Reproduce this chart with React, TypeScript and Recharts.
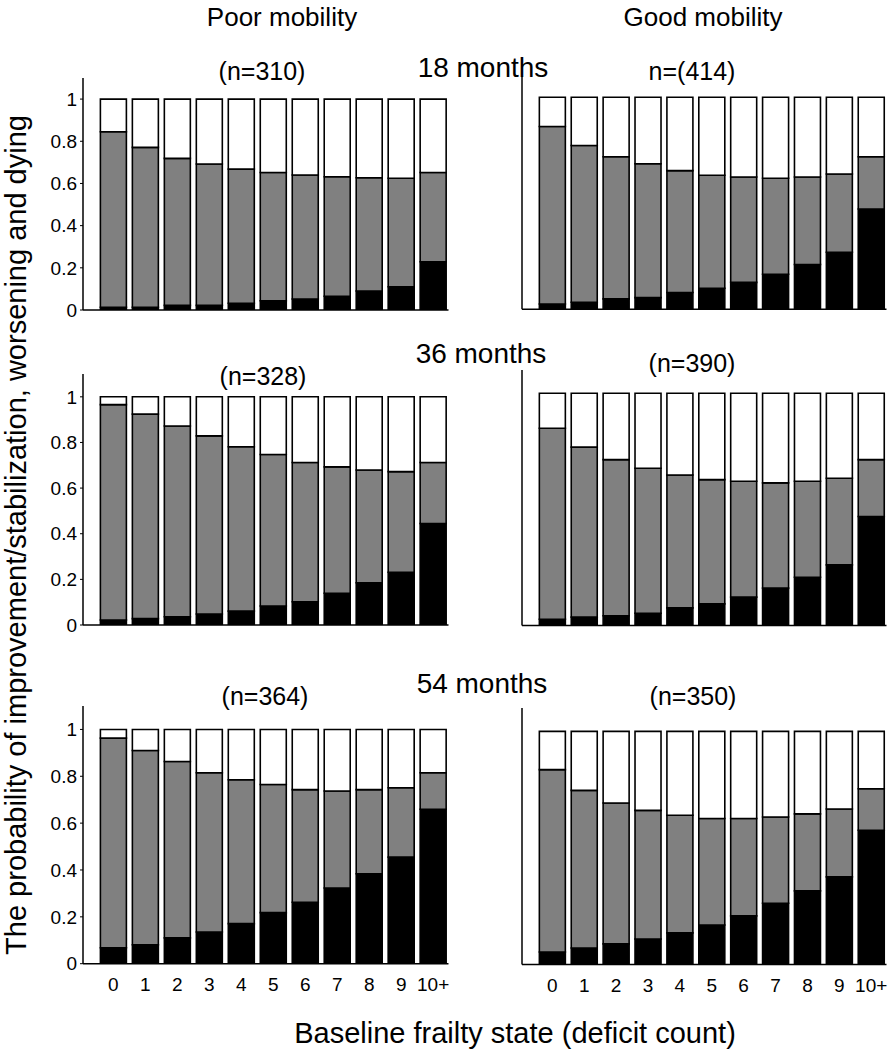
import React from "react";
import { BarChart, Bar, XAxis, YAxis } from "recharts";

const deficitIndex = [0, 1, 2, 3, 4, 5, 6, 7, 8, 9, 10];
const deficitLabels = ["0", "1", "2", "3", "4", "5", "6", "7", "8", "9", "10+"];
const probTicks = [0, 0.2, 0.4, 0.6, 0.8, 1];

// black = dying, gray = improvement/stabilization, white = worsening
const poor18Dying = [0.013, 0.013, 0.022, 0.022, 0.032, 0.044, 0.052, 0.065, 0.09, 0.11, 0.229];
const poor18Stable = [0.832, 0.758, 0.697, 0.67, 0.636, 0.608, 0.588, 0.567, 0.537, 0.515, 0.423];
const poor18Worse = [0.155, 0.229, 0.281, 0.308, 0.332, 0.348, 0.36, 0.368, 0.373, 0.375, 0.348];

const good18Dying = [0.025, 0.033, 0.049, 0.055, 0.079, 0.099, 0.127, 0.165, 0.211, 0.269, 0.473];
const good18Stable = [0.837, 0.739, 0.67, 0.631, 0.575, 0.533, 0.497, 0.453, 0.413, 0.369, 0.246];
const good18Worse = [0.138, 0.228, 0.281, 0.314, 0.346, 0.368, 0.376, 0.382, 0.376, 0.362, 0.281];

const poor36Dying = [0.022, 0.028, 0.036, 0.048, 0.061, 0.083, 0.102, 0.139, 0.185, 0.231, 0.445];
const poor36Stable = [0.944, 0.896, 0.836, 0.781, 0.72, 0.664, 0.61, 0.554, 0.494, 0.441, 0.267];
const poor36Worse = [0.034, 0.076, 0.128, 0.171, 0.219, 0.253, 0.288, 0.307, 0.321, 0.328, 0.288];

const good36Dying = [0.027, 0.036, 0.042, 0.053, 0.076, 0.093, 0.122, 0.161, 0.208, 0.261, 0.469];
const good36Stable = [0.822, 0.732, 0.672, 0.624, 0.572, 0.535, 0.499, 0.453, 0.413, 0.373, 0.245];
const good36Worse = [0.151, 0.232, 0.286, 0.323, 0.352, 0.372, 0.379, 0.386, 0.379, 0.366, 0.286];

const poor54Dying = [0.068, 0.081, 0.11, 0.135, 0.171, 0.218, 0.262, 0.323, 0.384, 0.455, 0.659];
const poor54Stable = [0.895, 0.829, 0.753, 0.68, 0.614, 0.547, 0.481, 0.414, 0.359, 0.296, 0.156];
const poor54Worse = [0.037, 0.09, 0.137, 0.185, 0.215, 0.235, 0.257, 0.263, 0.257, 0.249, 0.185];

const good54Dying = [0.054, 0.071, 0.089, 0.11, 0.136, 0.17, 0.209, 0.263, 0.316, 0.376, 0.576];
const good54Stable = [0.782, 0.676, 0.604, 0.551, 0.504, 0.456, 0.417, 0.37, 0.33, 0.291, 0.178];
const good54Worse = [0.164, 0.253, 0.307, 0.339, 0.36, 0.374, 0.374, 0.367, 0.354, 0.333, 0.246];

const buildRows = (dying: number[], stable: number[], worse: number[]) =>
  deficitIndex.map((x, i) => ({ x, dying: dying[i], stable: stable[i], worse: worse[i] }));

const FONT = "'Liberation Sans', Arial, sans-serif";

type PanelProps = {
  rows: any[];
  left: number;
  right: number;
  top: number;
  bottom: number;
  yLabels?: boolean;
  xLabels?: boolean;
};

const Panel = ({ rows, left, right, top, bottom, yLabels, xLabels }: PanelProps) => {
  const boxLeft = left - 60;
  const boxTop = top - 10;
  const width = right - boxLeft + 10;
  const height = bottom - boxTop + 40;
  const tickStyle = { fill: "#000", fontSize: 19, fontFamily: FONT };
  return (
    <div style={{ position: "absolute", left: boxLeft, top: boxTop }}>
      <BarChart width={width} height={height} data={rows} margin={{ top: 10, right: 10, left: 20, bottom: 10 }}>
        <XAxis
          type="number"
          dataKey="x"
          domain={[-0.95, 10.48]}
          ticks={deficitIndex}
          tickFormatter={(v: number) => deficitLabels[v]}
          allowDataOverflow
          height={30}
          tickLine={false}
          tickSize={10}
          tickMargin={4}
          tick={xLabels ? tickStyle : false}
          axisLine={{ stroke: "#000", strokeWidth: 1.5 }}
        />
        <YAxis
          type="number"
          domain={[0, 1.1]}
          ticks={probTicks}
          allowDataOverflow
          width={40}
          tickSize={3}
          tickMargin={3}
          tick={yLabels ? tickStyle : false}
          tickLine={{ stroke: "#000" }}
          axisLine={{ stroke: "#000", strokeWidth: 1.5 }}
        />
        <Bar dataKey="dying" stackId="s" fill="#000" stroke="#000" strokeWidth={1.6} barSize={26} isAnimationActive={false} />
        <Bar dataKey="stable" stackId="s" fill="#808080" stroke="#000" strokeWidth={1.6} barSize={26} isAnimationActive={false} />
        <Bar dataKey="worse" stackId="s" fill="#fff" stroke="#000" strokeWidth={1.6} barSize={26} isAnimationActive={false} />
      </BarChart>
    </div>
  );
};

const App = () => {
  const textStyle = { fontFamily: FONT, fill: "#000" };
  return (
    <div style={{ position: "absolute", left: 0, top: 0, width: 891, height: 1050, background: "#fff" }}>
      <Panel rows={buildRows(poor18Dying, poor18Stable, poor18Worse)} left={83} right={448.5} top={78} bottom={310} yLabels />
      <Panel rows={buildRows(good18Dying, good18Stable, good18Worse)} left={522} right={886.5} top={76} bottom={309.3} />
      <Panel rows={buildRows(poor36Dying, poor36Stable, poor36Worse)} left={83} right={448.5} top={374} bottom={625} yLabels />
      <Panel rows={buildRows(good36Dying, good36Stable, good36Worse)} left={522} right={886.5} top={369.5} bottom={625} />
      <Panel rows={buildRows(poor54Dying, poor54Stable, poor54Worse)} left={83} right={448.5} top={705.6} bottom={963.3} yLabels xLabels />
      <Panel rows={buildRows(good54Dying, good54Stable, good54Worse)} left={522} right={886.5} top={708.4} bottom={965} xLabels />
      <svg width={891} height={1050} style={{ position: "absolute", left: 0, top: 0, pointerEvents: "none" }}>
        <g style={textStyle}>
          <text x={282} y={26} fontSize={26} textAnchor="middle">Poor mobility</text>
          <text x={703} y={26} fontSize={26} textAnchor="middle">Good mobility</text>
          <text x={483} y={77} fontSize={28} textAnchor="middle">18 months</text>
          <text x={481} y={363} fontSize={28} textAnchor="middle">36 months</text>
          <text x={482} y={693} fontSize={28} textAnchor="middle">54 months</text>
          <text x={262} y={80} fontSize={25} textAnchor="middle">(n=310)</text>
          <text x={692} y={80} fontSize={25} textAnchor="middle">n=(414)</text>
          <text x={263} y={385} fontSize={25} textAnchor="middle">(n=328)</text>
          <text x={692} y={372} fontSize={25} textAnchor="middle">(n=390)</text>
          <text x={265} y={705} fontSize={25} textAnchor="middle">(n=364)</text>
          <text x={693} y={705} fontSize={25} textAnchor="middle">(n=350)</text>
          <text x={515} y={1043} fontSize={29} textAnchor="middle">Baseline frailty state (deficit count)</text>
          <text x={26} y={535} fontSize={29} textAnchor="middle" transform="rotate(-90 26 535)">
            The probability of improvement/stabilization, worsening and dying
          </text>
        </g>
      </svg>
    </div>
  );
};

export default App;
